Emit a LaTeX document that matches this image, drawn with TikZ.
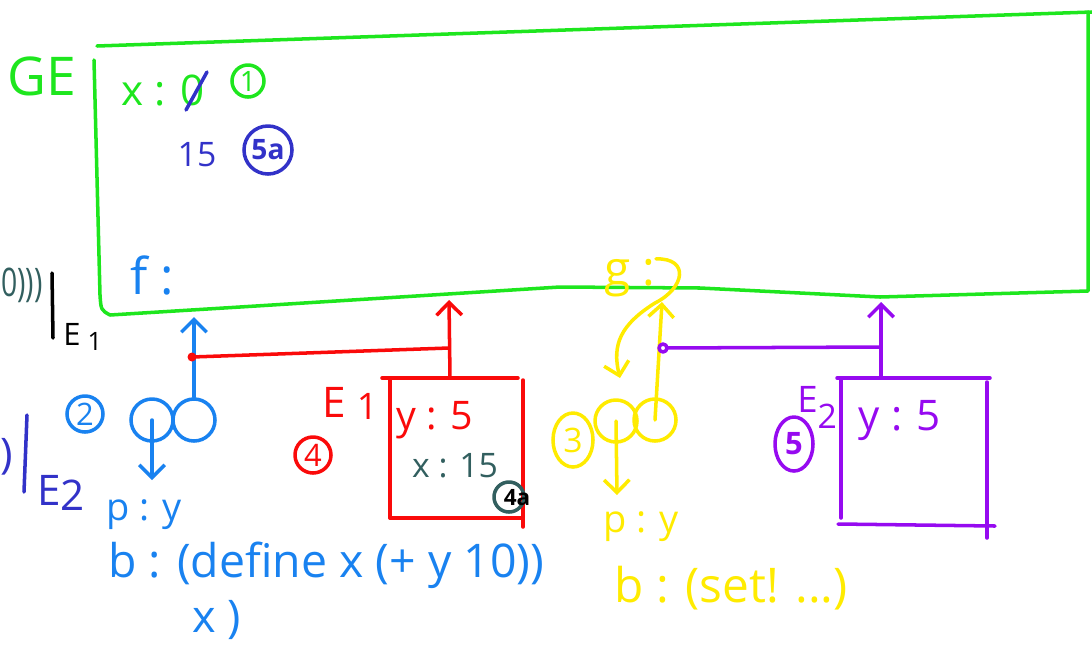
\documentclass[tikz,border=0pt]{standalone}
\usepackage{fontspec}
\setmainfont{Open Sans}
\usetikzlibrary{arrows.meta,shapes.geometric}
\definecolor{geGreen}{RGB}{30,230,30}
\definecolor{hwBlue}{RGB}{25,130,240}
\definecolor{hwNavy}{RGB}{50,50,200}
\definecolor{hwRed}{RGB}{250,10,10}
\definecolor{hwYellow}{RGB}{255,235,0}
\definecolor{hwPurple}{RGB}{150,10,240}
\definecolor{hwTeal}{RGB}{50,95,95}
\newcommand{\fs}[1]{\fontsize{#1}{#1}\selectfont}
\begin{document}
\begin{tikzpicture}[x=0.025cm,y=-0.025cm,
  pen/.style={line width=2.5pt, line cap=round, line join=round},
  arr/.style={pen, -{Straight Barb[length=9pt,width=18pt]}},
  txt/.style={inner sep=0pt},
  circnum/.style={draw, circle, pen, inner sep=0pt},
  ovalnum/.style={draw, ellipse, pen, inner sep=0pt},
  procc/.style={draw, circle, pen, minimum size=1.05cm, inner sep=0pt},
]
\useasboundingbox (0,0) rectangle (1092,647);

% ---------- global environment box ----------
\draw[pen,geGreen] (97,46) -- (1092,12);
\draw[pen,geGreen] (94,60) -- (100,295) .. controls (101,310) .. (110,315) -- (240,307) -- (560,287)
  -- (700,288) -- (880,297) -- (1088,291) -- (1088,12);
\node[txt,geGreen,font=\fs{38}] (GE) at (42,76) {GE};
\node[txt,geGreen,font=\fs{30}] (xbind) at (163,90) {x : 0};
\draw[pen,hwNavy] (207,72) -- (186,110);
\node[circnum,geGreen,font=\fs{20},minimum size=0.8cm] (c1) at (248,81) {1};
\node[txt,hwNavy,font=\fs{24}] (fifteen) at (197,155) {15};
\node[circnum,hwNavy,font=\bfseries\fs{20},minimum size=1.2cm] (c5a) at (268,150) {5a};
\node[txt,hwBlue,font=\fs{36}] (fbind) at (152,275) {f :};

% ---------- notes at the left edge ----------
\node[txt,hwTeal,font=\fs{28},anchor=west] (cut1) at (1,285) {\scalebox{0.72}[1]{0)))}};
\draw[pen,black] (52,273) -- (53,338);
\node[txt,black,font=\fs{22},anchor=base west] (E1blk) at (63,345) {E\hspace{5pt}\raisebox{-4pt}{\fs{18}1}};
\node[txt,hwNavy,font=\fs{30},anchor=west] (cut2) at (0,457) {)};
\draw[pen,hwNavy] (27,415) -- (24,492);
\node[txt,hwNavy,font=\fs{30},anchor=base west] (E2nv) at (37,505) {E\raisebox{-4pt}{2}};

% ---------- procedure f ----------
\node[circnum,hwBlue,font=\fs{22},minimum size=0.9cm] (c2) at (85,414) {2};
\node[procc,hwBlue] (fL) at (152,420) {};
\node[procc,hwBlue] (fR) at (194,420) {};
\coordinate (fdn) at (152,480);
\draw[arr,hwBlue] (fL.center) -- (fdn);
\coordinate (geF) at (194,317);
\draw[arr,hwBlue] (fR.north) -- (geF);
\node[txt,hwBlue,font=\fs{27}] (fp) at (144,515) {p : y};
\node[txt,hwBlue,font=\fs{33},anchor=west] (fb) at (108,565) {b : (define x (+ y 10))};
\node[txt,hwBlue,font=\fs{32}] (fb2) at (217,620) {x )};

% ---------- frame E1 ----------
\coordinate (rdot) at (192,357);
\coordinate (rcorner) at (449,348);
\fill[hwRed] (rdot) circle (4.5);
\draw[pen,hwRed] (rdot) -- (rcorner);
\draw[pen,hwRed] (382,378) -- (518,378);
\draw[pen,hwRed] (390,378) -- (390,518);
\draw[pen,hwRed] (390,518) -- (522,518);
\draw[pen,hwRed] (523,380) -- (523,527);
\coordinate (E1top) at (450,378);
\coordinate (geE1) at (449,300);
\draw[arr,hwRed] (E1top) -- (geE1);
\node[txt,hwRed,font=\fs{30},anchor=base west] (E1lbl) at (322,417) {E\hspace{8pt}\raisebox{-2pt}{\fs{26}1}};
\node[circnum,hwRed,font=\fs{22},minimum size=0.9cm] (c4) at (313,455) {4};
\node[txt,hwRed,font=\fs{28}] (E1y) at (435,420) {y : 5};
\node[txt,hwTeal,font=\fs{24}] (E1x) at (455,466) {x : 15};
\node[circnum,hwTeal,minimum size=0.75cm] (c4a) at (509,497) {};
\node[txt,black,font=\bfseries\fs{16}] (t4a) at (517,498) {4a};

% ---------- procedure g ----------
\node[txt,hwYellow,font=\fs{34}] (gbind) at (630,278) {g :};
\node[procc,hwYellow] (gL) at (616,421) {};
\node[procc,hwYellow] (gR) at (655,420) {};
\coordinate (gup) at (620,378);
\draw[arr,hwYellow] (gbind.north east) .. controls (690,258) and (685,288) .. (655,303)
  .. controls (620,325) and (612,345) .. (gup);
\coordinate (gdn) at (617,495);
\draw[arr,hwYellow] (gL.center) -- (gdn);
\coordinate (geG) at (662,302);
\draw[arr,hwYellow] (gR.center) -- (geG);
\node[ovalnum,hwYellow,font=\fs{24},minimum width=1cm,minimum height=1.35cm] (c3) at (573,440) {3};
\node[txt,hwYellow,font=\fs{27}] (gp) at (641,527) {p : y};
\node[txt,hwYellow,font=\fs{34}] (gb) at (731,588) {b : (set! ...)};

% ---------- frame E2 ----------
\coordinate (pdot) at (663,348);
\coordinate (pcorner) at (880,347);
\draw[pen,hwPurple] (pdot) -- (pcorner);
\draw[pen,hwPurple,fill=white] (pdot) circle (4);
\draw[pen,hwPurple] (837,378) -- (990,378);
\draw[pen,hwPurple] (841,380) -- (841,518);
\draw[pen,hwPurple] (838,524) -- (995,526);
\draw[pen,hwPurple] (987,382) -- (987,538);
\coordinate (E2top) at (881,378);
\coordinate (geE2) at (881,302);
\draw[arr,hwPurple] (E2top) -- (geE2);
\node[txt,hwPurple,font=\fs{30}] (E2y) at (900,420) {y : 5};
\node[txt,hwPurple,font=\fs{26},anchor=base west] (E2lbl) at (797,412) {E\raisebox{-12pt}{\fs{24}2}};
\node[ovalnum,hwPurple,font=\bfseries\fs{22},minimum width=0.95cm,minimum height=1.35cm] (c5) at (794,444) {5};
\end{tikzpicture}
\end{document}
